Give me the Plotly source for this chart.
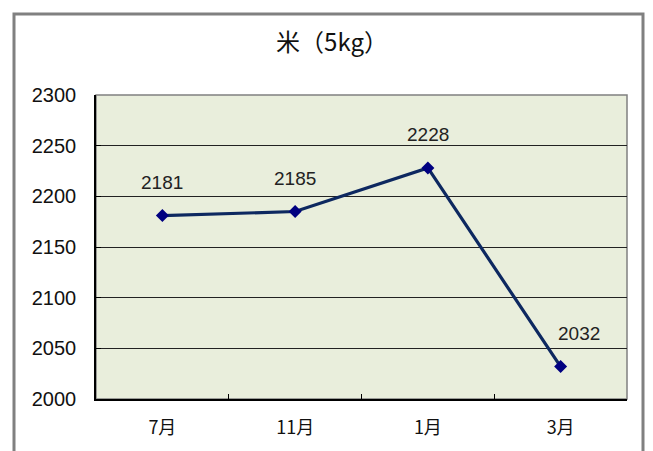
import plotly.graph_objects as go

categories = ["7月", "11月", "1月", "3月"]
values = [2181, 2185, 2228, 2032]
y_ticks = [2000, 2050, 2100, 2150, 2200, 2250, 2300]
title_text = "米（5kg）"

OFF = 8  # page body margin
W, H = 653 - OFF, 451 - OFF
# plot area in screen px: x 96..627, y 95..399
L, T = 96 - OFF, 95 - OFF
R = W - (627 - OFF)
B = H - (399 - OFF)
pw, ph = W - L - R, H - T - B

FONT = "Liberation Sans, Arial, Noto Sans CJK JP"


def px_x(p):
    return (p - OFF - L) / pw


def px_y(p):
    return (H - B - (p - OFF)) / ph


fig = go.Figure()
fig.add_trace(go.Scatter(
    x=categories, y=values, mode="lines+markers",
    line=dict(color="#0D2860", width=3.2),
    marker=dict(symbol="diamond", size=10, color="#000080"),
    hoverinfo="skip", showlegend=False,
))

for i, (c, v) in enumerate(zip(categories, values)):
    fig.add_annotation(
        x=c, y=v, text=str(v), showarrow=False,
        yshift=33, xshift=(18 if i == len(values) - 1 else 0),
        font=dict(family=FONT, size=19, color="#222222"),
    )

# outer frame
fig.add_shape(type="rect", xref="paper", yref="paper",
              x0=px_x(14), x1=px_x(643), y0=px_y(480), y1=px_y(14),
              line=dict(color="#808080", width=3), fillcolor="rgba(0,0,0,0)",
              layer="below")
# plot area border (gray on top/right)
fig.add_shape(type="rect", xref="paper", yref="paper",
              x0=0, x1=1, y0=0, y1=1,
              line=dict(color="#808080", width=1.5), fillcolor="rgba(0,0,0,0)",
              layer="below")

fig.update_layout(
    width=W, height=H,
    margin=dict(l=L, r=R, t=T, b=B),
    paper_bgcolor="white", plot_bgcolor="#E9EEDC",
    title=dict(text=title_text, x=(332 - OFF) / W, xref="container", xanchor="center",
               y=1 - (43 - OFF) / H, yref="container", yanchor="middle",
               font=dict(family="Noto Sans CJK JP", size=24, color="#111111")),
    xaxis=dict(
        type="category", range=[-0.5, 3.5],
        showline=True, linecolor="black", linewidth=1.5,
        ticks="inside", ticklen=5, tickcolor="black", tickson="boundaries",
        showgrid=False, zeroline=False,
        tickfont=dict(family="Noto Sans CJK JP", size=18, color="#111111"),
        ticklabelstandoff=12,
    ),
    yaxis=dict(
        range=[2000, 2300], tickvals=y_ticks,
        showline=True, linecolor="black", linewidth=1.5,
        ticks="inside", ticklen=5, tickcolor="black",
        showgrid=True, gridcolor="#222222", gridwidth=1,
        zeroline=False,
        tickfont=dict(family=FONT, size=20, color="#111111"),
        ticklabelstandoff=14,
    ),
)

fig.write_html("out.html")
